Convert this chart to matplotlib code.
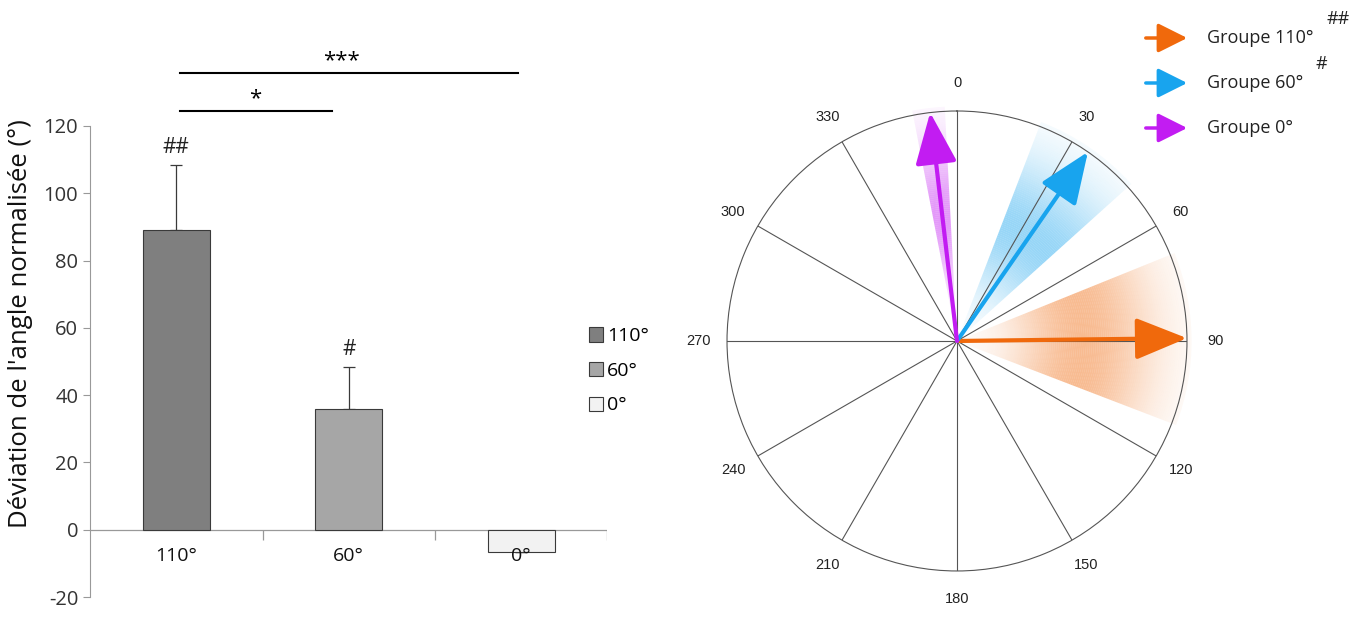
import matplotlib.pyplot as plt
import numpy as np
from matplotlib.patches import Patch, FancyArrowPatch

# bar chart data
groups = ['110°', '60°', '0°']
deviation = [89.2, 35.8, -6.5]
sem = [19.3, 12.5, 0.0]
bar_colors = ['#7f7f7f', '#a6a6a6', '#f2f2f2']
group_marks = ['##', '#', '']

# circular data (degrees, clockwise from north)
arrow_labels = ['Groupe 110°', 'Groupe 60°', 'Groupe 0°']
arrow_marks = ['##', '#', '']
mean_angle = [89.3, 34.7, 353.3]
spread_lo = [68, 21, 349]
spread_hi = [111, 48, 357]
arrow_colors = ['#f0690c', '#18a4ee', '#c21cf2']

fig = plt.figure(figsize=(13.65, 6.17), dpi=100)
plt.rcParams['font.family'] = ['Open Sans', 'DejaVu Sans']
plt.rcParams['axes.unicode_minus'] = False

# ---- bars ----
ax = fig.add_axes([0.066, 0.0324, 0.379, 0.7634])
x = np.arange(len(groups))
ax.bar(x, deviation, width=0.39, color=bar_colors, edgecolor='#3a3a3a', lw=0.8, zorder=3)
ax.errorbar(x, deviation, yerr=[np.zeros(3), sem], fmt='none', ecolor='#3a3a3a',
            elinewidth=0.9, capsize=4, capthick=0.9, zorder=2)
for xi, d, s, m in zip(x, deviation, sem, group_marks):
    if m:
        ax.text(xi, d + s + 2, m, ha='center', va='bottom', fontsize=15, color='#222')

ax.set_xlim(-0.5, 2.5)
ax.set_ylim(-20, 120)
ax.set_yticks(range(-20, 121, 20))
ax.tick_params(axis='y', labelsize=14.5, colors='#333', direction='out', length=5, color='#999')
ax.set_xticks([])
for sp in ['top', 'right', 'bottom']:
    ax.spines[sp].set_visible(False)
ax.spines['left'].set_color('#999')
ax.axhline(0, color='#999', lw=0.9, zorder=1)
ax.vlines([0.5, 1.5, 2.5], -3, 0, color='#999', lw=0.9)
for xi, g in zip(x, groups):
    ax.text(xi, -5.2, g, ha='center', va='top', fontsize=14, color='#111', zorder=4)
ax.set_ylabel("Déviation de l'angle normalisée (°)", fontsize=18.5, color='#111')
ax.yaxis.set_label_coords(-0.11, 0.58)

# significance bars
ax.plot([0.02, 1.98], [135.7, 135.7], color='k', lw=1.5, clip_on=False)
ax.text(0.96, 136.3, '***', ha='center', va='bottom', fontsize=16)
ax.plot([0.02, 0.9], [124.6, 124.6], color='k', lw=1.5, clip_on=False)
ax.text(0.46, 125.1, '*', ha='center', va='bottom', fontsize=16)

handles = [Patch(facecolor=c, edgecolor='#3a3a3a', lw=0.8) for c in bar_colors]
ax.legend(handles, groups, loc='center left', bbox_to_anchor=(0.93, 0.48), frameon=False,
          fontsize=14, handlelength=0.75, handleheight=0.75, handletextpad=0.2,
          labelspacing=0.85)

# ---- circular plot ----
pax = fig.add_axes([0.5326, 0.0746, 0.337, 0.7455], projection='polar')
pax.set_theta_zero_location('N')
pax.set_theta_direction(-1)
pax.set_ylim(0, 1)
pax.set_yticks([])
pax.set_xticks(np.deg2rad(np.arange(0, 360, 30)))
pax.set_xticklabels([str(a) for a in range(0, 360, 30)], fontsize=10.5,
                    family=['Liberation Sans'], color='#222')
pax.tick_params(axis='x', pad=10)
pax.grid(True, color='#555', lw=0.8)
pax.spines['polar'].set_color('#555')
pax.spines['polar'].set_linewidth(0.8)

# soft shaded spread, built from thin rings
nr = 120
radii = np.linspace(0, 1.02, nr + 1)
for lo, hi, c in zip(spread_lo, spread_hi, arrow_colors):
    lo_r, hi_r = np.deg2rad(lo), np.deg2rad(hi)
    if hi_r < lo_r:
        hi_r += 2 * np.pi
    for r0, r1 in zip(radii[:-1], radii[1:]):
        rm = 0.5 * (r0 + r1)
        a = 0.45 * np.exp(-((rm - 0.55) / 0.3) ** 2)
        pax.bar(0.5 * (lo_r + hi_r), r1 - r0, width=hi_r - lo_r, bottom=r0,
                color=c, alpha=a, lw=0, zorder=1, clip_on=False)

for ang, c in zip(mean_angle, arrow_colors):
    pax.annotate('', xy=(np.deg2rad(ang), 1.0), xytext=(0, 0),
                 arrowprops=dict(arrowstyle='-|>,head_length=1.6,head_width=0.65',
                                 color=c, lw=3, mutation_scale=20,
                                 shrinkA=0, shrinkB=0), zorder=5)

# arrow legend
for i, (lab, m, c) in enumerate(zip(arrow_labels, arrow_marks, arrow_colors)):
    yf = 1 - (38 + 45 * i) / 617
    fig.add_artist(FancyArrowPatch(
        (1143 / 1365, yf), (1190 / 1365, yf), transform=fig.transFigure,
        arrowstyle='-|>,head_length=1.0,head_width=0.5', mutation_scale=18,
        color=c, lw=2.5))
    fig.text(1207 / 1365, yf, lab, ha='left', va='center', fontsize=13, color='#222')
    if m:
        fig.text(1316 / 1365 + (0.008 if m == '##' else 0), yf + 0.03, m,
                 ha='left', va='center', fontsize=13, color='#222')

fig.savefig('out.png', dpi=100)
